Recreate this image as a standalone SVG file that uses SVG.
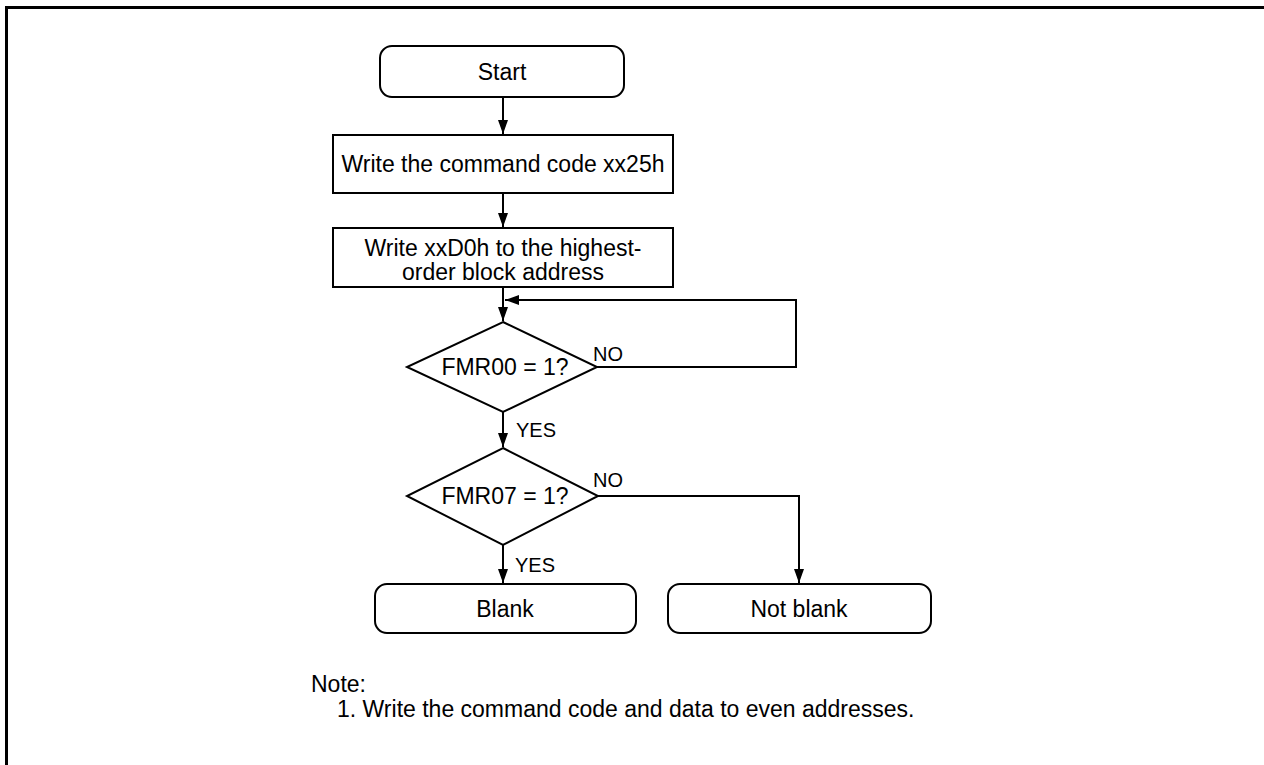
<svg xmlns="http://www.w3.org/2000/svg" width="1264" height="765" viewBox="0 0 1264 765">
<defs>
<style>
.box{fill:#fff;stroke:#000;stroke-width:2}
.t{font-family:"Liberation Sans",Arial,sans-serif;font-size:23px;fill:#000;text-anchor:middle}
.l{font-family:"Liberation Sans",Arial,sans-serif;font-size:20px;fill:#000}
.n{font-family:"Liberation Sans",Arial,sans-serif;font-size:23px;fill:#000}
.c{fill:none;stroke:#000;stroke-width:2}
</style>
<marker id="ah" viewBox="0 0 14 10" refX="14" refY="5" markerWidth="14" markerHeight="10" markerUnits="userSpaceOnUse" orient="auto">
<path d="M0,0 L14,5 L0,10 Z" fill="#000"/>
</marker>
</defs>
<rect width="1264" height="765" fill="#fff"/>
<path d="M6.5,765 V7.5 H1264" fill="none" stroke="#000" stroke-width="3"/>
<g id="connectors">
<path class="c" d="M503,97 V134" marker-end="url(#ah)"/>
<path class="c" d="M503,193 V227" marker-end="url(#ah)"/>
<path class="c" d="M503,287 V321" marker-end="url(#ah)"/>
<path class="c" d="M597,367 H796 V300 H505" marker-end="url(#ah)"/>
<path class="c" d="M503,412 V447" marker-end="url(#ah)"/>
<path class="c" d="M503,545 V583" marker-end="url(#ah)"/>
<path class="c" d="M598,496 H799 V583" marker-end="url(#ah)"/>
<text class="l" x="593" y="361">NO</text>
<text class="l" x="516" y="437">YES</text>
<text class="l" x="593" y="487">NO</text>
<text class="l" x="515" y="572">YES</text>
</g>
<g id="start">
<rect class="box" x="380" y="46" width="244" height="51" rx="12"/>
<text class="t" x="502" y="80">Start</text>
</g>
<g id="cmd">
<rect class="box" x="333" y="135" width="340" height="58"/>
<text class="t" x="503" y="172">Write the command code xx25h</text>
</g>
<g id="block">
<rect class="box" x="333" y="228" width="340" height="59"/>
<text class="t" x="503" y="256">Write xxD0h to the highest-</text>
<text class="t" x="503" y="280">order block address</text>
</g>
<g id="fmr00">
<polygon class="box" points="503,322 597,367 503,412 407,367"/>
<text class="t" x="505" y="375">FMR00 = 1?</text>
</g>
<g id="fmr07">
<polygon class="box" points="503,448 598,496 503,545 407,496"/>
<text class="t" x="505" y="504">FMR07 = 1?</text>
</g>
<g id="blank">
<rect class="box" x="375" y="584" width="261" height="49" rx="12"/>
<text class="t" x="505" y="617">Blank</text>
</g>
<g id="notblank">
<rect class="box" x="668" y="584" width="263" height="49" rx="12"/>
<text class="t" x="799" y="617">Not blank</text>
</g>
<g id="note">
<text class="n" x="311" y="692">Note:</text>
<text class="n" x="337" y="717">1. Write the command code and data to even addresses.</text>
</g>
</svg>
